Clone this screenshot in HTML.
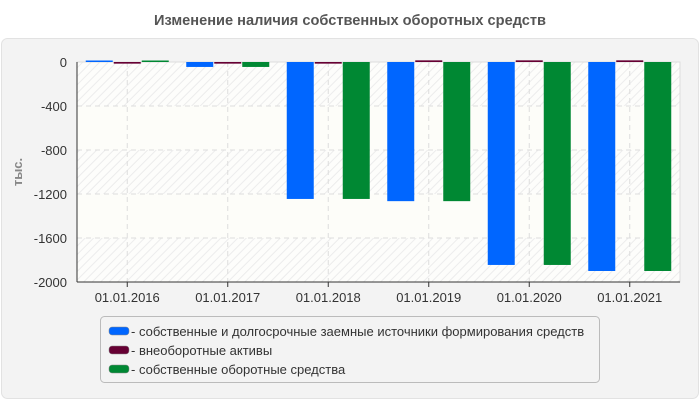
<!DOCTYPE html>
<html><head><meta charset="utf-8"><style>
body{margin:0;background:#fff;font-family:"Liberation Sans","DejaVu Sans",sans-serif;}
svg text{font-family:"Liberation Sans","DejaVu Sans",sans-serif;}
</style></head><body>
<svg width="700" height="400" xmlns="http://www.w3.org/2000/svg">
<defs>
<pattern id="hatch" width="6" height="6" patternUnits="userSpaceOnUse" patternTransform="rotate(45)">
<rect width="6" height="6" fill="#fdfdfb"/><line x1="0" y1="0" x2="0" y2="6" stroke="#ececec" stroke-width="2"/>
</pattern>
</defs>
<text x="350" y="25" text-anchor="middle" font-size="14.6" font-weight="bold" fill="#555">Изменение наличия собственных оборотных средств</text>
<rect x="1.5" y="38.5" width="697" height="360" rx="6" fill="#f3f3f3" stroke="#e2e2e2"/>
<g id="plot"></g>
<text transform="translate(22,172) rotate(-90)" text-anchor="middle" font-size="13" font-weight="bold" fill="#888">тыс.</text>
<rect x="100.5" y="316.5" width="499" height="66" rx="4" fill="#f3f3f3" stroke="#bbb"/>
<g><rect x="109" y="327" width="20" height="8" rx="3" fill="#0066ff" stroke="#888" stroke-width="0.5"/><text x="131" y="336" font-size="13" fill="#333">- собственные и долгосрочные заемные источники формирования средств</text></g>
<g><rect x="109" y="346" width="20" height="8" rx="3" fill="#660033" stroke="#888" stroke-width="0.5"/><text x="131" y="355" font-size="13" fill="#333">- внеоборотные активы</text></g>
<g><rect x="109" y="365" width="20" height="8" rx="3" fill="#008833" stroke="#888" stroke-width="0.5"/><text x="131" y="374" font-size="13" fill="#333">- собственные оборотные средства</text></g>
</svg>
<script>
const categories=["01.01.2016","01.01.2017","01.01.2018","01.01.2019","01.01.2020","01.01.2021"];
const sourcesVals=[10,-45,-1245,-1265,-1845,-1900];
const nonCurrentVals=[-15,-15,-15,15,15,15];
const ownCurrentVals=[8,-45,-1245,-1265,-1845,-1900];
const yTicks=[0,-400,-800,-1200,-1600,-2000];
const seriesColors=["#0066ff","#660033","#008833"];
const NS="http://www.w3.org/2000/svg";
const g=document.getElementById('plot');
const L=77,R=680,T=62,B=282,yMin=-2000,yMax=0;
const y=v=>T+(yMax-v)/(yMax-yMin)*(B-T);
const step=(R-L)/categories.length;
const xc=i=>L+step*(i+0.5);
function mk(t,a){const e=document.createElementNS(NS,t);for(const k in a)e.setAttribute(k,a[k]);g.appendChild(e);return e;}
for(let i=0;i<yTicks.length-1;i++){
 const r=mk('rect',{x:L,y:y(yTicks[i]),width:R-L,height:y(yTicks[i+1])-y(yTicks[i]),fill:i%2==0?'url(#hatch)':'#fdfdf9'});
 
 
}
mk('rect',{x:L,y:T,width:R-L,height:B-T,fill:'none',stroke:'#ddd'});
yTicks.forEach(v=>{
 if(v!==0&&v!==yMin){const l=mk('line',{x1:L,x2:R,y1:y(v),y2:y(v),stroke:'#ddd','stroke-dasharray':'5,4'});
 
 }
 const t=mk('text',{x:L-10,y:y(v)+5,'text-anchor':'end','font-size':13,fill:'#333'});t.textContent=v;
 
 
});
categories.forEach((c,i)=>{
 const l=mk('line',{x1:xc(i),x2:xc(i),y1:T,y2:B,stroke:'#ddd','stroke-dasharray':'5,4'});
 
 
 mk('line',{x1:xc(i),x2:xc(i),y1:B,y2:B+5,stroke:'#333'});
 const t=mk('text',{x:xc(i),y:B+20,'text-anchor':'middle','font-size':13,fill:'#333'});t.textContent=c;
 
 
});
const series=[sourcesVals,nonCurrentVals,ownCurrentVals];
const bw=27;
series.forEach((vals,s)=>{
 vals.forEach((v,i)=>{
  const x=xc(i)+(s-1)*(bw+1)-bw/2;
  const h=Math.max(1.5,Math.abs(y(v)-y(0)));
  const r=mk('rect',{x:x,y:v>=0?y(0)-h:y(0),width:bw,height:h,fill:seriesColors[s]});
  
  
 });
});
mk('line',{x1:L,x2:L,y1:T,y2:B,stroke:'#333'});
mk('line',{x1:L,x2:R,y1:B,y2:B,stroke:'#333'});
</script>
</body></html>
